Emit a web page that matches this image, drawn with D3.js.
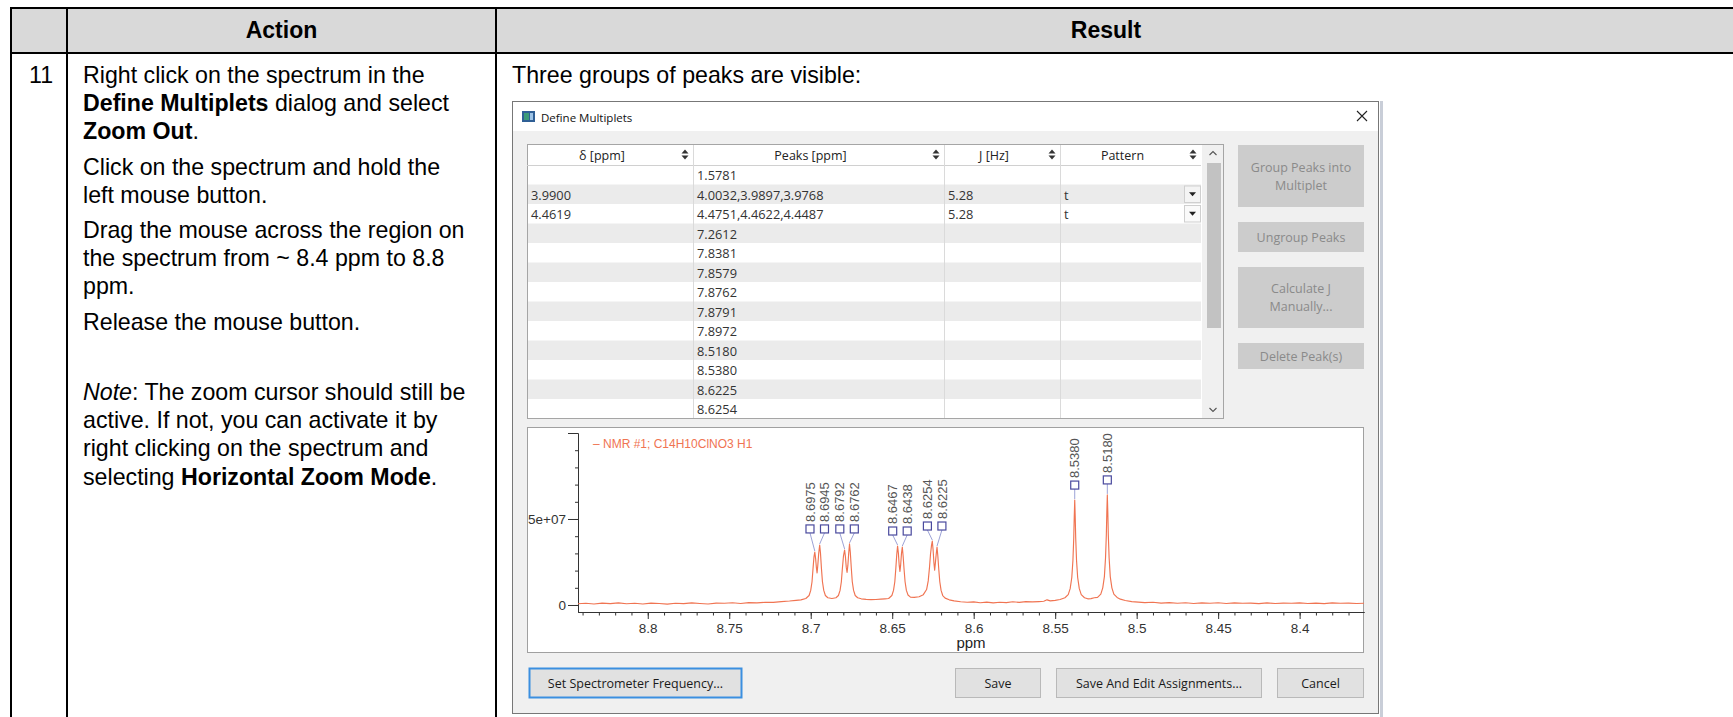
<!DOCTYPE html>
<html><head><meta charset="utf-8">
<script src="https://cdn.jsdelivr.net/npm/d3@7"></script>
<style>
html,body{margin:0;padding:0;background:#fff;}
svg{display:block;}
</style></head><body>
<svg id="chart" width="1733" height="717"></svg>
<script>
// ================= DATA =================
const headerLabels = ["Action", "Result"];
const stepNumber = "11";
const actionParagraphs = [
  [ [["Right click on the spectrum in the",""]],
    [["Define Multiplets","b"],[" dialog and select",""]],
    [["Zoom Out","b"],[".",""]] ],
  [ [["Click on the spectrum and hold the",""]],
    [["left mouse button.",""]] ],
  [ [["Drag the mouse across the region on",""]],
    [["the spectrum from ~ 8.4 ppm to 8.8",""]],
    [["ppm.",""]] ],
  [ [["Release the mouse button.",""]] ],
  [ [["",""]] ],
  [ [["Note","i"],[": The zoom cursor should still be",""]],
    [["active. If not, you can activate it by",""]],
    [["right clicking on the spectrum and",""]],
    [["selecting ",""],["Horizontal Zoom Mode","b"],[".",""]] ]
];
const resultCaption = "Three groups of peaks are visible:";
const dialogTitle = "Define Multiplets";
const tableColumns = ["δ [ppm]", "Peaks [ppm]", "J [Hz]", "Pattern"];
const shiftColumn    = ["", "3.9900", "4.4619", "", "", "", "", "", "", "", "", "", ""];
const peaksColumn    = ["1.5781", "4.0032,3.9897,3.9768", "4.4751,4.4622,4.4487", "7.2612", "7.8381",
                        "7.8579", "7.8762", "7.8791", "7.8972", "8.5180", "8.5380", "8.6225", "8.6254"];
const couplingColumn = ["", "5.28", "5.28", "", "", "", "", "", "", "", "", "", ""];
const patternColumn  = ["", "t", "t", "", "", "", "", "", "", "", "", "", ""];
const sideButtonLabels = [["Group Peaks into", "Multiplet"], ["Ungroup Peaks"], ["Calculate J", "Manually..."], ["Delete Peak(s)"]];
const bottomButtonLabels = ["Set Spectrometer Frequency...", "Save", "Save And Edit Assignments...", "Cancel"];
const legendLabel = "– NMR #1; C14H10ClNO3 H1";
const xAxisTitle = "ppm";
const xTickValues = [8.8, 8.75, 8.7, 8.65, 8.6, 8.55, 8.5, 8.45, 8.4];
const xTickLabels = ["8.8", "8.75", "8.7", "8.65", "8.6", "8.55", "8.5", "8.45", "8.4"];
const yTickValues = [0, 5e7, 1e8];
const yTickLabels = ["0", "5e+07", ""];
const peakPpm       = [8.6975, 8.6945, 8.6792, 8.6762, 8.6467, 8.6438, 8.6254, 8.6225, 8.5380, 8.5180];
const peakIntensity = [3.08e7, 3.49e7, 3.20e7, 3.55e7, 3.43e7, 3.37e7, 3.72e7, 3.37e7, 6.10e7, 6.40e7];
const peakLabels    = ["8.6975", "8.6945", "8.6792", "8.6762", "8.6467", "8.6438", "8.6254", "8.6225", "8.5380", "8.5180"];
const peakLabelGroup = [0, 0, 0, 0, 1, 1, 2, 2, 3, 4];
// traced spectrum (ppm, intensity in units of 1e7)
const spectrumPpm = [
 8.8428,8.8380,8.8330,8.8280,8.8230,8.8180,8.8130,8.8080,8.8030,8.7980,8.7930,8.7880,8.7830,8.7780,8.7730,8.7680,
 8.7630,8.7580,8.7530,8.7480,8.7430,8.7380,8.7330,8.7280,8.7230,8.7180,8.7130,8.7090,8.7060,8.7030,8.7010,8.7000,
 8.6992,8.6986,8.6980,8.6975,8.6970,8.6965,8.6961,8.6957,8.6951,8.6945,8.6940,8.6934,8.6928,8.6920,8.6910,8.6895,
 8.6870,8.6845,8.6830,8.6820,8.6812,8.6806,8.6799,8.6792,8.6787,8.6782,8.6777,8.6772,8.6767,8.6762,8.6757,8.6751,
 8.6745,8.6737,8.6727,8.6712,8.6690,8.6660,8.6630,8.6600,8.6570,8.6545,8.6522,8.6502,8.6492,8.6484,8.6478,8.6472,
 8.6467,8.6462,8.6457,8.64525,8.6448,8.6443,8.6438,8.6433,8.6427,8.6421,8.6413,8.6403,8.6388,8.6365,8.6335,8.6309,
 8.6289,8.6279,8.6271,8.6265,8.6259,8.6254,8.6249,8.6244,8.62395,8.6235,8.6230,8.6225,8.6220,8.6214,8.6208,8.6200,
 8.6190,8.6175,8.6150,8.6120,8.6080,8.6040,8.6000,8.5960,8.5920,8.5880,8.5840,8.5800,8.5760,8.5720,8.5680,8.5640,
 8.5600,8.5570,8.5550,8.5530,8.5500,8.5470,8.5440,8.5420,8.5408,8.5398,8.5391,8.5386,8.5383,8.5380,8.5377,8.5374,
 8.5369,8.5362,8.5352,8.5340,8.5320,8.5300,8.5280,8.5260,8.5240,8.5220,8.5208,8.5198,8.5191,8.5186,8.5183,8.5180,
 8.5177,8.5174,8.5169,8.5162,8.5152,8.5140,8.5120,8.5100,8.5070,8.5030,8.4990,8.4950,8.4900,8.4850,8.4800,8.4750,
 8.4700,8.4650,8.4600,8.4550,8.4500,8.4450,8.4400,8.4350,8.4300,8.4250,8.4200,8.4150,8.4100,8.4050,8.4000,8.3950,
 8.3900,8.3850,8.3800,8.3750,8.3700,8.3650,8.3605];
const spectrumIntensity = [
 0.07,0.10,0.06,0.11,0.08,0.12,0.07,0.10,0.06,0.11,0.09,0.05,0.10,0.08,0.12,0.09,
 0.06,0.11,0.10,0.13,0.09,0.14,0.12,0.16,0.15,0.20,0.23,0.27,0.30,0.38,0.55,0.85,
 1.35,2.10,2.80,3.08,2.70,2.15,1.86,2.25,3.00,3.49,3.00,2.10,1.35,0.85,0.55,0.42,
 0.38,0.42,0.55,0.85,1.35,2.10,2.85,3.20,2.80,2.20,1.90,2.30,3.00,3.55,3.05,2.15,
 1.35,0.85,0.55,0.42,0.36,0.33,0.31,0.32,0.34,0.36,0.38,0.55,0.85,1.35,2.10,2.95,
 3.43,3.00,2.30,1.95,2.35,3.00,3.37,2.85,2.05,1.35,0.85,0.58,0.46,0.44,0.48,0.60,
 0.90,1.40,2.20,2.95,3.45,3.72,3.20,2.45,2.03,2.45,2.95,3.37,2.85,2.05,1.35,0.85,
 0.55,0.40,0.30,0.24,0.19,0.16,0.18,0.13,0.17,0.12,0.16,0.14,0.19,0.15,0.20,0.18,
 0.20,0.22,0.30,0.24,0.27,0.32,0.42,0.60,0.95,1.60,2.60,3.90,5.10,6.10,5.10,3.90,
 2.60,1.60,0.95,0.60,0.42,0.36,0.37,0.42,0.44,0.63,1.00,1.65,2.75,4.10,5.40,6.40,
 5.40,4.10,2.75,1.65,1.00,0.63,0.44,0.34,0.26,0.20,0.17,0.14,0.16,0.11,0.14,0.10,
 0.13,0.09,0.12,0.10,0.13,0.09,0.12,0.10,0.11,0.08,0.12,0.09,0.11,0.10,0.12,0.09,
 0.11,0.08,0.12,0.10,0.11,0.09,0.10];

// ================= DRAWING =================
const W = 1733, H = 717;
const svg = d3.select("#chart");
const pageFont = "'Liberation Sans', Arial, sans-serif";
const uiFont = "'Open Sans', 'Noto Sans', sans-serif";

// ---- page table ----
const PT = {top: 8, headBottom: 53, left: 11, col1: 67, col2: 496, pad: 16};
svg.append("rect").attr("x", PT.left).attr("y", PT.top).attr("width", W - PT.left)
  .attr("height", PT.headBottom - PT.top).attr("fill", "#d9d9d9");
const gridG = svg.append("g").attr("stroke", "#000").attr("stroke-width", 2);
[PT.top, PT.headBottom].forEach(yy => gridG.append("line").attr("x1", PT.left - 1).attr("x2", W).attr("y1", yy).attr("y2", yy));
[PT.left, PT.col1, PT.col2].forEach(xx => gridG.append("line").attr("x1", xx).attr("x2", xx).attr("y1", PT.top - 1).attr("y2", H));

const headerX = [(PT.col1 + PT.col2) / 2, 1106];
svg.selectAll("text.hdr").data(headerLabels).join("text").attr("class", "hdr")
  .attr("x", (d, i) => headerX[i]).attr("y", (PT.top + PT.headBottom) / 2 + 7)
  .attr("text-anchor", "middle").attr("font-family", pageFont).attr("font-weight", "bold")
  .attr("font-size", 23).attr("fill", "#000").text(d => d);

const firstBase = 83, lineH = 28.2, paraGap = 7;
svg.append("text").attr("x", 29).attr("y", firstBase).attr("font-family", pageFont)
  .attr("font-size", 23.2).text(stepNumber);

let base = firstBase;
const textG = svg.append("g").attr("font-family", pageFont).attr("font-size", 23.2).attr("fill", "#000");
actionParagraphs.forEach((para, pi) => {
  if (pi > 0) base += lineH + paraGap;
  para.forEach((line, li) => {
    if (li > 0) base += lineH;
    const t = textG.append("text").attr("x", PT.col1 + PT.pad).attr("y", base);
    line.forEach(([s, st]) => {
      const sp = t.append("tspan").text(s);
      if (st === "b") sp.attr("font-weight", "bold");
      if (st === "i") sp.attr("font-style", "italic");
    });
  });
});
svg.append("text").attr("x", PT.col2 + PT.pad).attr("y", firstBase).attr("font-family", pageFont)
  .attr("font-size", 23.2).text(resultCaption);

// ---- dialog window ----
const D = {left: 512, right: 1379, top: 101, titleBottom: 131, bottom: 713};
svg.append("rect").attr("x", D.right + 1).attr("y", D.top).attr("width", 3).attr("height", H - D.top).attr("fill", "#c9ced8");
svg.append("rect").attr("x", D.left + 0.5).attr("y", D.top + 0.5).attr("width", D.right - D.left - 1)
  .attr("height", D.bottom - D.top).attr("fill", "#f0f0f0").attr("stroke", "#777");
svg.append("rect").attr("x", D.left + 1).attr("y", D.top + 1).attr("width", D.right - D.left - 2)
  .attr("height", D.titleBottom - D.top - 1).attr("fill", "#fff");
// icon
svg.append("rect").attr("x", 522).attr("y", 111).attr("width", 13).attr("height", 11).attr("fill", "#2f5f95");
svg.append("rect").attr("x", 524).attr("y", 113).attr("width", 5).attr("height", 7).attr("fill", "#3c9a78");
svg.append("rect").attr("x", 530).attr("y", 113).attr("width", 3).attr("height", 7).attr("fill", "#9dc3e6");
svg.append("text").attr("x", 541).attr("y", 117).attr("dominant-baseline", "central")
  .attr("font-family", uiFont).attr("font-size", 11.5).attr("fill", "#111").text(dialogTitle);
svg.append("path").attr("d", "M1357,111L1367,121M1367,111L1357,121").attr("stroke", "#222").attr("stroke-width", 1.1);

// ---- table ----
const T = {left: 527, right: 1224, dataRight: 1201, top: 144, headBottom: 165, bottom: 419, rowH: 19.5};
const colEdges = [T.left, 693, 944, 1060, T.dataRight];
svg.append("rect").attr("x", T.left + 0.5).attr("y", T.top + 0.5).attr("width", T.right - T.left - 1)
  .attr("height", T.bottom - T.top - 1).attr("fill", "#fff").attr("stroke", "#a5a5a5");
const rowsG = svg.append("g");
peaksColumn.forEach((p, i) => {
  const ry = T.headBottom + i * T.rowH;
  rowsG.append("rect").attr("x", T.left + 1).attr("y", ry).attr("width", T.dataRight - T.left - 1)
    .attr("height", Math.min(T.rowH, T.bottom - 1 - ry)).attr("fill", i % 2 ? "#ebebeb" : "#fff");
});
svg.append("line").attr("x1", T.left).attr("x2", T.dataRight).attr("y1", T.headBottom + 0.5).attr("y2", T.headBottom + 0.5).attr("stroke", "#d0d0d0");
colEdges.slice(1, 4).forEach(cx => svg.append("line").attr("x1", cx + 0.5).attr("x2", cx + 0.5)
  .attr("y1", T.top + 1).attr("y2", T.bottom - 1).attr("stroke", "#dadada"));
// header labels + sort arrows
tableColumns.forEach((c, i) => {
  const l = colEdges[i], r = colEdges[i + 1];
  svg.append("text").attr("x", (l + r - 16) / 2).attr("y", (T.top + T.headBottom) / 2 + 0.5)
    .attr("text-anchor", "middle").attr("dominant-baseline", "central").attr("font-family", uiFont)
    .attr("font-size", 12.5).attr("fill", "#222").text(c);
  const ax = r - 8, ay = (T.top + T.headBottom) / 2;
  svg.append("path").attr("d", `M${ax - 3.5},${ay - 1}L${ax + 3.5},${ay - 1}L${ax},${ay - 5}Z M${ax - 3.5},${ay + 1}L${ax + 3.5},${ay + 1}L${ax},${ay + 5}Z`).attr("fill", "#333");
});
// cells
const cellCols = [shiftColumn, peaksColumn, couplingColumn, patternColumn];
cellCols.forEach((col, ci) => {
  col.forEach((v, ri) => {
    if (!v) return;
    svg.append("text").attr("x", colEdges[ci] + 4).attr("y", T.headBottom + ri * T.rowH + T.rowH / 2 + 0.5)
      .attr("dominant-baseline", "central").attr("font-family", uiFont).attr("font-size", 12.8)
      .attr("fill", "#333").text(v);
  });
});
// dropdowns in pattern column
patternColumn.forEach((v, ri) => {
  if (!v) return;
  const ry = T.headBottom + ri * T.rowH;
  svg.append("rect").attr("x", 1184.5).attr("y", ry + 1.5).attr("width", 16).attr("height", T.rowH - 3)
    .attr("fill", ri % 2 ? "#f4f4f4" : "#fafafa").attr("stroke", "#cfcfcf");
  const cx = 1192.5, cy = ry + T.rowH / 2;
  svg.append("path").attr("d", `M${cx - 3.5},${cy - 2}L${cx + 3.5},${cy - 2}L${cx},${cy + 2}Z`).attr("fill", "#222");
});
// scrollbar
svg.append("rect").attr("x", T.dataRight + 1).attr("y", T.top + 1).attr("width", T.right - T.dataRight - 2)
  .attr("height", T.bottom - T.top - 2).attr("fill", "#f0f0f0");
svg.append("rect").attr("x", 1207).attr("y", 163).attr("width", 14).attr("height", 165).attr("fill", "#c2c2c2");
svg.append("path").attr("d", "M1209.5,155L1213,151.5L1216.5,155M1209.5,408L1213,411.5L1216.5,408")
  .attr("fill", "none").attr("stroke", "#555").attr("stroke-width", 1.1);

// ---- side buttons ----
const sideButtonBoxes = [[145, 207], [222, 252], [267, 328], [343, 369]];
sideButtonLabels.forEach((lines, i) => {
  const [y0, y1] = sideButtonBoxes[i];
  svg.append("rect").attr("x", 1238).attr("y", y0).attr("width", 126).attr("height", y1 - y0).attr("fill", "#cccccc");
  const cy = (y0 + y1) / 2;
  lines.forEach((s, li) => {
    svg.append("text").attr("x", 1301).attr("y", cy + (li - (lines.length - 1) / 2) * 18)
      .attr("text-anchor", "middle").attr("dominant-baseline", "central").attr("font-family", uiFont)
      .attr("font-size", 12.5).attr("fill", "#8a8a8a").text(s);
  });
});

// ---- bottom buttons ----
const bottomBoxes = [[529, 742], [955, 1041], [1056, 1262], [1277, 1364]];
bottomButtonLabels.forEach((s, i) => {
  const [x0, x1] = bottomBoxes[i];
  svg.append("rect").attr("x", x0 + 0.5).attr("y", 668.5).attr("width", x1 - x0 - 1).attr("height", 29)
    .attr("fill", "#e1e1e1").attr("stroke", i === 0 ? "#3b8fe0" : "#b9b9b9").attr("stroke-width", i === 0 ? 2 : 1);
  svg.append("text").attr("x", (x0 + x1) / 2).attr("y", 683).attr("text-anchor", "middle")
    .attr("dominant-baseline", "central").attr("font-family", uiFont).attr("font-size", 12.5)
    .attr("fill", "#1a1a1a").text(s);
});

// ---- spectrum panel ----
const P = {left: 527, right: 1364, top: 427, bottom: 653};
svg.append("rect").attr("x", P.left + 0.5).attr("y", P.top + 0.5).attr("width", P.right - P.left - 1)
  .attr("height", P.bottom - P.top - 1).attr("fill", "#fff").attr("stroke", "#a0a0a0");

const x = d3.scaleLinear().domain([8.8428, 8.3605]).range([578, 1364]);
const y = d3.scaleLinear().domain([-4.07e6, 1e8]).range([612, 433]);

function styleAxis(g) {
  g.attr("font-family", pageFont).attr("font-size", 13.5);
  g.selectAll("path.domain").attr("stroke", "#333");
  g.selectAll("line").attr("stroke", "#333");
  g.selectAll("text").attr("fill", "#333");
}
// x axis
svg.append("g").attr("transform", `translate(0,${y.range()[0]})`)
  .call(d3.axisBottom(x).tickValues(d3.range(837, 885).map(d => d / 100)).tickSize(3.5).tickSizeOuter(0).tickFormat(""))
  .call(styleAxis);
svg.append("g").attr("transform", `translate(0,${y.range()[0]})`)
  .call(d3.axisBottom(x).tickValues(xTickValues).tickSize(7).tickSizeOuter(0).tickPadding(4)
    .tickFormat((d, i) => xTickLabels[i]))
  .call(styleAxis);
// y axis
svg.append("g").attr("transform", `translate(${x.range()[0]},0)`)
  .call(d3.axisLeft(y).tickValues(d3.range(0, 11).map(d => d * 1e7)).tickSize(3).tickSizeOuter(0).tickFormat(""))
  .call(styleAxis);
svg.append("g").attr("transform", `translate(${x.range()[0]},0)`)
  .call(d3.axisLeft(y).tickValues(yTickValues).tickSize(10).tickSizeOuter(0).tickPadding(2)
    .tickFormat((d, i) => yTickLabels[i]))
  .call(styleAxis);

svg.append("text").attr("x", 971).attr("y", 648).attr("text-anchor", "middle")
  .attr("font-family", pageFont).attr("font-size", 15).attr("fill", "#222").text(xAxisTitle);

const specColor = "#f07452";
svg.append("text").attr("x", 593).attr("y", 444).attr("dominant-baseline", "central")
  .attr("font-family", pageFont).attr("font-size", 12).attr("fill", specColor).text(legendLabel);

const line = d3.line().x((d, i) => x(spectrumPpm[i])).y(d => y(d * 1e7));
svg.append("path").datum(spectrumIntensity).attr("d", line).attr("fill", "none")
  .attr("stroke", specColor).attr("stroke-width", 1.15).attr("stroke-linejoin", "round");

// ---- peak labels ----
const groupTop = {};
peakPpm.forEach((p, i) => {
  const g = peakLabelGroup[i];
  groupTop[g] = Math.min(groupTop[g] ?? Infinity, y(peakIntensity[i]));
});
const labels = peakPpm.map((p, i) => ({i, px: x(p), py: y(peakIntensity[i]), sx: x(p), sy: groupTop[peakLabelGroup[i]] - 15}));
const minGap = 14.5;
labels.sort((a, b) => a.px - b.px);
for (let it = 0; it < 60; it++) {
  for (let k = 0; k < labels.length - 1; k++) {
    const a = labels[k], b = labels[k + 1];
    const gap = b.sx - a.sx;
    if (gap < minGap) { const push = (minGap - gap) / 2; a.sx -= push; b.sx += push; }
  }
}
const lg = svg.append("g");
labels.forEach(l => {
  lg.append("line").attr("x1", l.sx).attr("y1", l.sy + 4).attr("x2", l.px).attr("y2", l.py - 1)
    .attr("stroke", "#9ca2d6").attr("stroke-width", 1);
  lg.append("rect").attr("x", l.sx - 4).attr("y", l.sy - 4).attr("width", 8).attr("height", 8)
    .attr("fill", "#fff").attr("stroke", "#4a4a9e").attr("stroke-width", 1.2);
  lg.append("text").attr("transform", `translate(${l.sx},${l.sy - 7}) rotate(-90)`)
    .attr("dy", "0.36em").attr("font-family", pageFont).attr("font-size", 13).attr("fill", "#555")
    .text(peakLabels[l.i]);
});
</script>
</body></html>
